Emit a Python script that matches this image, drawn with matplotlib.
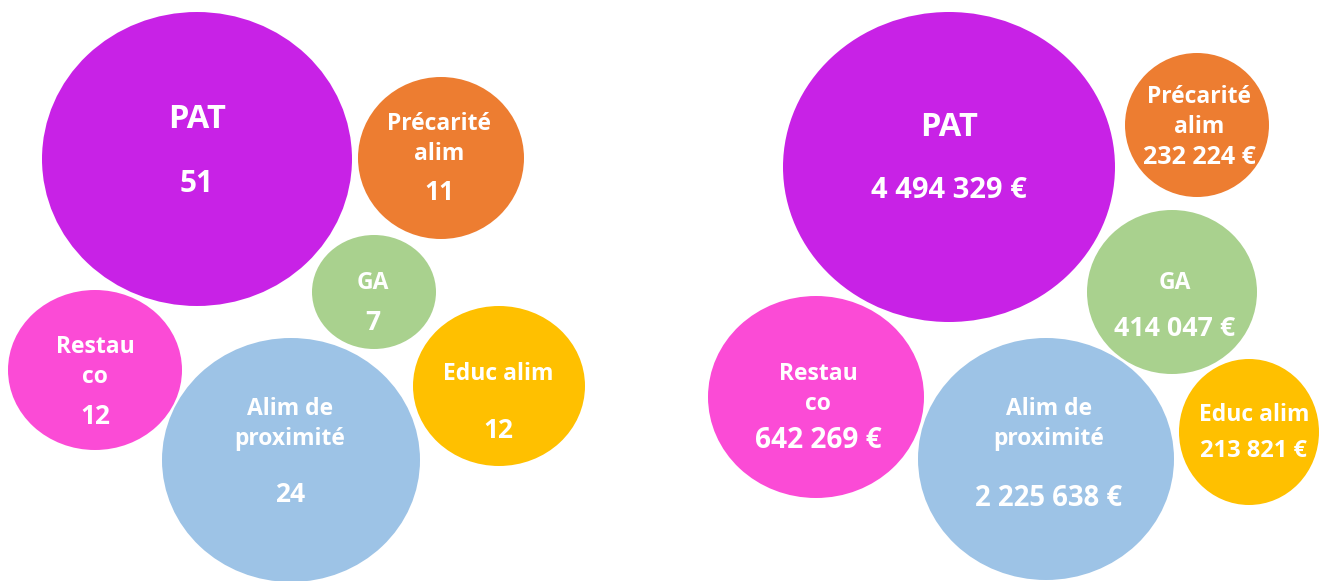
import matplotlib.pyplot as plt
from matplotlib.patches import Ellipse

# data
categories = ["PAT", "Précarité alim", "GA", "Restau co", "Alim de proximité", "Educ alim"]
counts = [51, 11, 7, 12, 24, 12]
amounts = [4494329, 232224, 414047, 642269, 2225638, 213821]
colors = ["#C822E6", "#ED7D31", "#A9D18E", "#FB4BD6", "#9DC3E6", "#FFC000"]

# how each name is broken on the circles
name_lines = ["PAT", "Précarité\nalim", "GA", "Restau\nco", "Alim de\nproximité", "Educ alim"]

# layout in pixels: centre x, centre y, rx, ry, text x, y of name block, y of value, value font size
left_layout = [
    (197, 159, 155, 147, 197, 120, 184, 21.5),
    (441, 158, 83, 81, 439, 139, 192, 19),
    (374, 292, 62, 57, 373, 283, 323, 19),
    (95, 370, 87, 80, 95, 362, 416, 19),
    (291, 460, 129, 122, 290, 424, 494, 19),
    (499, 386, 86, 80, 498, 374, 430, 19),
]
right_layout = [
    (949, 167, 166, 155, 949, 128, 190, 21),
    (1197, 125, 72, 72, 1199, 112, 158, 18),
    (1172, 292, 85, 82, 1175, 283, 329, 19.3),
    (816, 397, 108, 101, 818, 389, 440, 20.2),
    (1046, 459, 128, 121, 1049, 424, 498, 19.8),
    (1249, 432, 70, 73, 1254, 415, 451, 17),
]

FONT = "Open Sans"


def euros(v):
    return "{:,}".format(v).replace(",", " ") + " €"


def draw_panel(ax, layout, values):
    for i, (cx, cy, rx, ry, tx, ny, vy, vsize) in enumerate(layout):
        ax.add_patch(Ellipse((cx, cy), 2 * rx, 2 * ry, color=colors[i], lw=0))
        big = i == 0
        ax.text(tx, ny, name_lines[i], ha="center", va="center", color="white",
                fontsize=23.5 if big else 16.5, fontweight="bold", family=FONT,
                linespacing=1.35)
        ax.text(tx, vy, values[i], ha="center", va="center", color="white",
                fontsize=vsize, fontweight="bold", family=FONT)


fig = plt.figure(figsize=(13.19, 5.81), dpi=100)
ax = fig.add_axes([0, 0, 1, 1])
ax.set_xlim(0, 1319)
ax.set_ylim(581, 0)
ax.axis("off")

draw_panel(ax, left_layout, [str(c) for c in counts])
draw_panel(ax, right_layout, [euros(a) for a in amounts])

fig.savefig("out.png", dpi=100)
